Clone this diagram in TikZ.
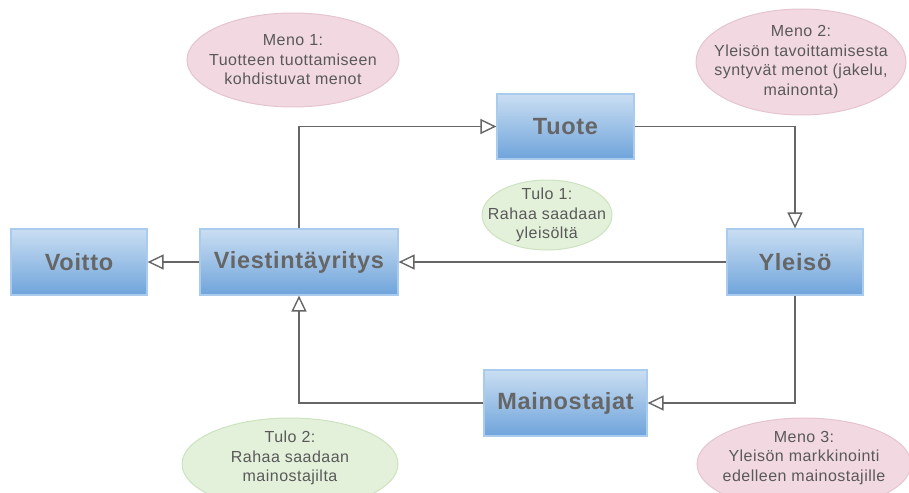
\documentclass[tikz,border=0pt]{standalone}
\usepackage{fontspec}
\setmainfont{Liberation Sans}
\newfontfamily\boxfont[LetterSpace=3]{Liberation Sans}
\newfontfamily\ellfont[LetterSpace=3]{Liberation Sans}
\usetikzlibrary{arrows.meta,shapes.geometric}
\definecolor{boxtop}{HTML}{CADEF2}
\definecolor{boxbot}{HTML}{6FA4DB}
\definecolor{boxline}{HTML}{A9CCEE}
\definecolor{boxtext}{HTML}{666666}
\definecolor{pinkfill}{HTML}{F2D8E1}
\definecolor{pinkline}{HTML}{E5C4D0}
\definecolor{greenfill}{HTML}{E3F0DA}
\definecolor{greenline}{HTML}{CCE3BF}
\definecolor{ltext}{HTML}{595959}
\definecolor{conn}{HTML}{666666}
\tikzset{
  boxnode/.style={rectangle, top color=boxtop, bottom color=boxbot, draw=boxline, line width=1.2pt,
    text=boxtext, font=\boxfont\fontsize{23.5}{27}\selectfont\bfseries, inner sep=0pt},
  pinkell/.style={ellipse, fill=pinkfill, draw=pinkline, line width=1pt, inner sep=0pt},
  greenell/.style={ellipse, fill=greenfill, draw=greenline, line width=1pt, inner sep=0pt},
  elltext/.style={text=ltext, align=center, font=\ellfont\fontsize{16}{19.5}\selectfont, inner sep=0pt},
  flow/.style={draw=conn, line width=1.6pt, -{Triangle[open, length=16pt, width=15pt, line width=1.4pt]}}
}
\begin{document}
\begin{tikzpicture}[x=1pt,y=-1pt]
\useasboundingbox (0,0) rectangle (909,492);
% ellipses
\node[pinkell, minimum width=212pt, minimum height=94pt] (m1) at (293,60) {};
\node[elltext] (m1t) at (m1.center) {Meno 1:\\Tuotteen tuottamiseen\\kohdistuvat menot};
\node[pinkell, minimum width=210pt, minimum height=106pt] (m2) at (801,62) {};
\node[elltext] (m2t) at (m2.center) {Meno 2:\\Yleisön tavoittamisesta\\syntyvät menot (jakelu,\\mainonta)};
\node[greenell, minimum width=130pt, minimum height=70pt] (t1) at (547,215) {};
\node[elltext] (t1t) at (t1.center) {Tulo 1:\\Rahaa saadaan\\yleisöltä};
\node[greenell, minimum width=216pt, minimum height=92pt] (t2) at (290,464) {};
\node[elltext] (t2t) at (290,458) {Tulo 2:\\Rahaa saadaan\\mainostajilta};
\node[pinkell, minimum width=214pt, minimum height=92pt] (m3) at (804,464) {};
\node[elltext] (m3t) at (804,458) {Meno 3:\\Yleisön markkinointi\\edelleen mainostajille};
% boxes
\node[boxnode, minimum width=136pt, minimum height=66pt] (voitto) at (79,262) {Voitto};
\node[boxnode, minimum width=198pt, minimum height=66pt] (viest) at (299,262) {Viestintäyritys};
\node[boxnode, minimum width=137pt, minimum height=65pt] (tuote) at (565.5,126.5) {Tuote};
\node[boxnode, minimum width=136pt, minimum height=66pt] (yleiso) at (795,262) {Yleisö};
\node[boxnode, minimum width=163pt, minimum height=66pt] (mainos) at (565.5,403) {Mainostajat};
% connectors
\draw[flow] (viest.west) -- (voitto.east);
\draw[flow] (viest.north) |- (tuote.west);
\draw[flow] (tuote.east) -| (yleiso.north);
\draw[flow] (yleiso.west) -- (viest.east);
\draw[flow] (yleiso.south) |- (mainos.east);
\draw[flow] (mainos.west) -| (viest.south);
\end{tikzpicture}
\end{document}
